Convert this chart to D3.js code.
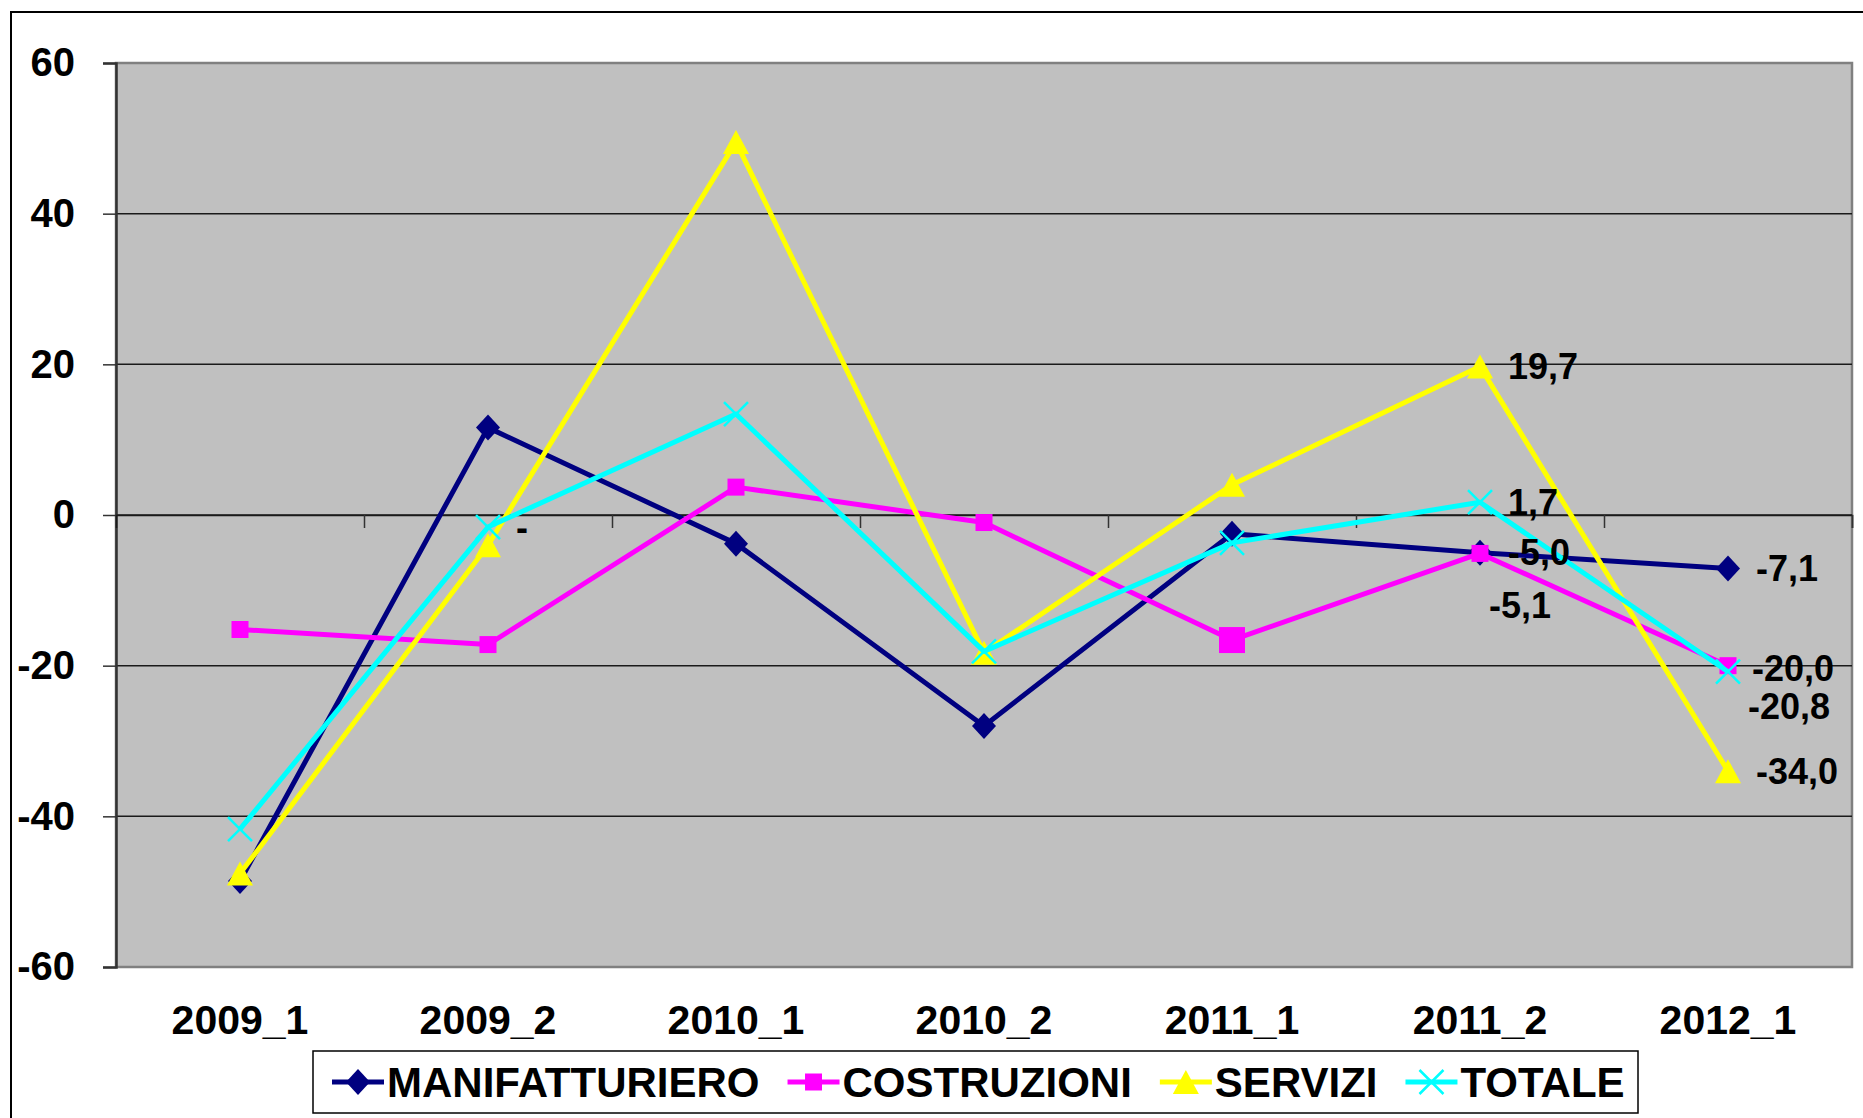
<!DOCTYPE html>
<html>
<head>
<meta charset="utf-8">
<script src="https://cdn.jsdelivr.net/npm/d3@7"></script>
<style>
  body { margin: 0; background: #fff; }
  svg { display: block; font-family: "Liberation Sans", Arial, sans-serif; font-weight: bold; }
</style>
</head>
<body>
<div id="chart"></div>
<script>
// categories & series
const categories = ["2009_1", "2009_2", "2010_1", "2010_2", "2011_1", "2011_2", "2012_1"];
const manifatturiero = [-48.6, 11.6, -3.8, -28.0, -2.5, -5.0, -7.1];
const costruzioni = [-15.2, -17.2, 3.7, -1.0, -16.6, -5.1, -20.0];
const servizi = [-47.6, -4.0, 49.5, -18.3, 4.0, 19.7, -34.0];
const totale = [-41.7, -1.6, 13.4, -18.1, -3.7, 1.7, -20.8];

// data labels shown on the chart
const manifLabels = [null, null, null, null, null, "-5,0", "-7,1"];
const costrLabels = [null, null, null, null, null, "-5,1", "-20,0"];
const serviziLabels = [null, null, null, null, null, "19,7", "-34,0"];
const totaleLabels = [null, "-", null, null, null, "1,7", "-20,8"];

const yTicks = [-60, -40, -20, 0, 20, 40, 60];

const series = [
    {name: "MANIFATTURIERO", values: manifatturiero, labels: manifLabels, color: "#000080", marker: "diamond"},
    {name: "COSTRUZIONI", values: costruzioni, labels: costrLabels, color: "#FF00FF", marker: "square"},
    {name: "SERVIZI", values: servizi, labels: serviziLabels, color: "#FFFF00", marker: "triangle"},
    {name: "TOTALE", values: totale, labels: totaleLabels, color: "#00FFFF", marker: "cross"}
];

const W = 1863, H = 1118;
const plot = {left: 116, right: 1852, top: 63, bottom: 967};

const svg = d3.select("#chart").append("svg")
    .attr("width", W)
    .attr("height", H);

// outer chart frame (runs off the right / bottom of the picture)
svg.append("rect")
    .attr("x", 11).attr("y", 12)
    .attr("width", W + 20).attr("height", H + 20)
    .attr("fill", "#fff")
    .attr("stroke", "#000")
    .attr("stroke-width", 2);

const x = d3.scaleBand()
    .domain(categories)
    .range([plot.left, plot.right])
    .paddingInner(0).paddingOuter(0);

const xEdge = d3.scaleLinear()
    .domain([0, categories.length])
    .range([plot.left, plot.right]);

const y = d3.scaleLinear()
    .domain([-60, 60])
    .range([plot.bottom, plot.top]);

const cx = c => x(c) + x.bandwidth() / 2;

// plot area
svg.append("rect")
    .attr("x", plot.left).attr("y", plot.top)
    .attr("width", plot.right - plot.left)
    .attr("height", plot.bottom - plot.top)
    .attr("fill", "#C0C0C0")
    .attr("stroke", "#808080")
    .attr("stroke-width", 2.5);

// gridlines
svg.append("g")
    .selectAll("line")
    .data(yTicks.filter(d => d !== 60 && d !== -60))
    .join("line")
    .attr("x1", plot.left).attr("x2", plot.right)
    .attr("y1", d => y(d)).attr("y2", d => y(d))
    .attr("stroke", "#1a1a1a")
    .attr("stroke-width", 1.5);

// y axis
const yAxis = svg.append("g")
    .attr("transform", `translate(${plot.left},0)`)
    .call(d3.axisLeft(y).tickValues(yTicks).tickSize(13).tickPadding(28).tickFormat(d3.format("d")));
yAxis.select(".domain").attr("stroke", "#333").attr("stroke-width", 2.5);
yAxis.selectAll(".tick line").attr("stroke", "#333").attr("stroke-width", 1.5);
yAxis.selectAll(".tick text")
    .attr("font-size", 40)
    .attr("font-family", "'Liberation Sans', Arial, sans-serif")
    .attr("font-weight", "bold")
    .attr("fill", "#000")
    .text(d => d < 0 ? "-" + Math.abs(d) : d);

// category axis sits on zero
const xAxis = svg.append("g")
    .attr("transform", `translate(0,${y(0)})`)
    .call(d3.axisBottom(xEdge).tickValues(d3.range(1, categories.length + 1)).tickSize(13).tickFormat(""));
xAxis.select(".domain").attr("stroke", "#1a1a1a").attr("stroke-width", 1.5);
xAxis.selectAll(".tick line").attr("stroke", "#333").attr("stroke-width", 1.5);

// category labels under the plot
svg.append("g")
    .selectAll("text")
    .data(categories)
    .join("text")
    .attr("x", d => cx(d))
    .attr("y", 1034)
    .attr("text-anchor", "middle")
    .attr("font-size", 41)
    .text(d => d);

// marker shapes
function markerPath(type, big) {
    if (type === "diamond") return "M0,-13L12,0L0,13L-12,0Z";
    if (type === "square") {
        const h = big ? 13 : 8.5;
        return `M${-h},${-h}H${h}V${h}H${-h}Z`;
    }
    if (type === "triangle") return "M0,-12L13,12L-13,12Z";
    return "M-12,-12L12,12M-12,12L12,-12";
}

function drawMarker(g, s, big) {
    const p = g.append("path").attr("d", markerPath(s.marker, big));
    if (s.marker === "cross") {
        p.attr("fill", "none").attr("stroke", s.color).attr("stroke-width", 2.5);
    } else {
        p.attr("fill", s.color);
    }
    return p;
}

const line = d3.line()
    .x(d => cx(d.cat))
    .y(d => y(d.v));

series.forEach(s => {
    const pts = categories.map((c, i) => ({cat: c, v: s.values[i]}));
    const g = svg.append("g");
    g.append("path")
        .datum(pts)
        .attr("d", line)
        .attr("fill", "none")
        .attr("stroke", s.color)
        .attr("stroke-width", 5)
        .attr("stroke-linejoin", "round");
    pts.forEach((p, i) => {
        // the COSTRUZIONI 2011_1 point uses a bigger marker in the original
        const big = s.marker === "square" && p.cat === "2011_1";
        drawMarker(g.append("g").attr("transform", `translate(${cx(p.cat)},${y(p.v)})`), s, big);
    });
});

// data labels; most sit right of the point, a couple were nudged
const labelOffset = {
    "COSTRUZIONI|2011_2": [9, 52],
    "TOTALE|2012_1": [20, 35],
    "COSTRUZIONI|2012_1": [24, 3]
};
series.forEach(s => {
    s.labels.forEach((t, i) => {
        if (!t) return;
        const c = categories[i];
        const off = labelOffset[s.name + "|" + c] || [28, 0];
        svg.append("text")
            .attr("x", cx(c) + off[0])
            .attr("y", y(s.values[i]) + off[1])
            .attr("dominant-baseline", "central")
            .attr("font-size", 36)
            .text(t);
    });
});

// legend
const legend = svg.append("g");
const legBox = {x: 313, y: 1051, w: 1325, h: 62};
legend.append("rect")
    .attr("x", legBox.x).attr("y", legBox.y)
    .attr("width", legBox.w).attr("height", legBox.h)
    .attr("fill", "#fff")
    .attr("stroke", "#000")
    .attr("stroke-width", 1.5);

let lx = 332;
const ly = 1082;
series.forEach(s => {
    const item = legend.append("g");
    item.append("line")
        .attr("x1", lx).attr("x2", lx + 52)
        .attr("y1", ly).attr("y2", ly)
        .attr("stroke", s.color)
        .attr("stroke-width", 5);
    drawMarker(item.append("g").attr("transform", `translate(${lx + 26},${ly})`), s, false);
    const txt = item.append("text")
        .attr("x", lx + 55)
        .attr("y", ly)
        .attr("dominant-baseline", "central")
        .attr("font-size", 42)
        .text(s.name);
    lx += 55 + txt.node().getComputedTextLength() + 28;
});
</script>
</body>
</html>
